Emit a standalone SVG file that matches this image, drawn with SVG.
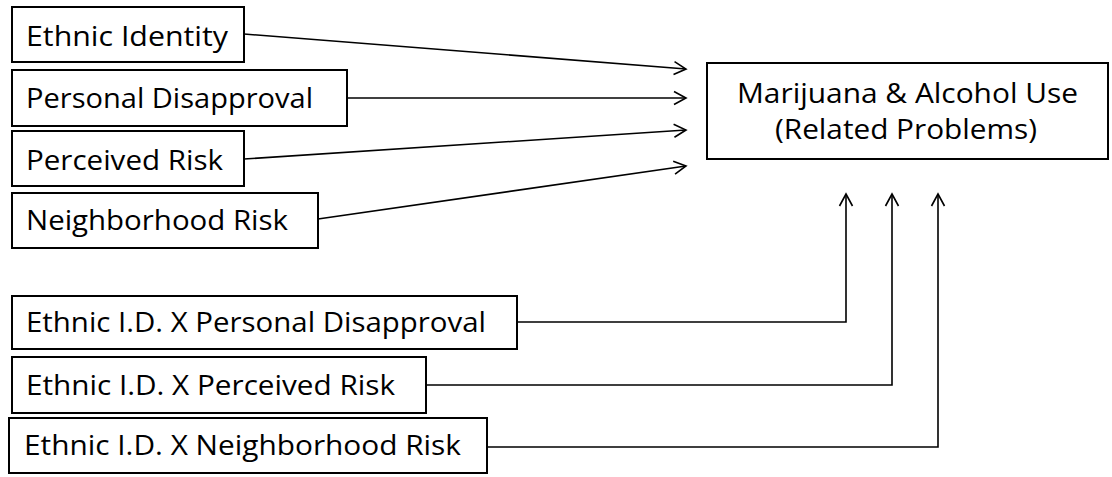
<svg xmlns="http://www.w3.org/2000/svg" width="1112" height="477" viewBox="0 0 1112 477">
<style>
.box{fill:#fff;stroke:#000;stroke-width:2}
.t{font-family:"Open Sans","Noto Sans","Liberation Sans",sans-serif;font-size:27px;fill:#000}
.c{fill:none;stroke:#000;stroke-width:1.6}
</style>
<defs>
<marker id="ah" markerUnits="userSpaceOnUse" viewBox="0 0 16 16" refX="14" refY="8" markerWidth="16" markerHeight="16" orient="auto">
<path d="M2,1.5 L14,8 L2,14.5" fill="none" stroke="#000" stroke-width="1.6"/>
</marker>
</defs>
<rect width="1112" height="477" fill="#fff"/>
<g id="connectors">
<line class="c" x1="244" y1="34" x2="686" y2="69" marker-end="url(#ah)"/>
<line class="c" x1="347" y1="98" x2="686" y2="98" marker-end="url(#ah)"/>
<line class="c" x1="244" y1="159" x2="686" y2="130" marker-end="url(#ah)"/>
<line class="c" x1="318" y1="219" x2="686" y2="166" marker-end="url(#ah)"/>
<polyline class="c" points="517,322 846,322 846,194" marker-end="url(#ah)"/>
<polyline class="c" points="426,385 892,385 892,194" marker-end="url(#ah)"/>
<polyline class="c" points="487,447 938,447 938,194" marker-end="url(#ah)"/>
</g>
<g id="ethnic-identity">
<rect class="box" x="12" y="7" width="232" height="55"/>
<text class="t" x="26" y="46" textLength="202" lengthAdjust="spacingAndGlyphs">Ethnic Identity</text>
</g>
<g id="personal-disapproval">
<rect class="box" x="12" y="70" width="335" height="56"/>
<text class="t" x="26" y="108" textLength="287" lengthAdjust="spacingAndGlyphs">Personal Disapproval</text>
</g>
<g id="perceived-risk">
<rect class="box" x="12" y="131" width="232" height="55"/>
<text class="t" x="26" y="170" textLength="197" lengthAdjust="spacingAndGlyphs">Perceived Risk</text>
</g>
<g id="neighborhood-risk">
<rect class="box" x="12" y="193" width="306" height="55"/>
<text class="t" x="26" y="230" textLength="262" lengthAdjust="spacingAndGlyphs">Neighborhood Risk</text>
</g>
<g id="outcome">
<rect class="box" x="707" y="63" width="401" height="96"/>
<text class="t" x="907.5" y="103" text-anchor="middle" textLength="341" lengthAdjust="spacingAndGlyphs">Marijuana &amp; Alcohol Use</text>
<text class="t" x="906" y="139" text-anchor="middle" textLength="262" lengthAdjust="spacingAndGlyphs">(Related Problems)</text>
</g>
<g id="eid-x-disapproval">
<rect class="box" x="12" y="296" width="505" height="53"/>
<text class="t" x="26" y="332" textLength="460" lengthAdjust="spacingAndGlyphs">Ethnic I.D. X Personal Disapproval</text>
</g>
<g id="eid-x-perceived-risk">
<rect class="box" x="12" y="357" width="414" height="56"/>
<text class="t" x="26" y="395" textLength="369" lengthAdjust="spacingAndGlyphs">Ethnic I.D. X Perceived Risk</text>
</g>
<g id="eid-x-neighborhood-risk">
<rect class="box" x="9" y="418" width="478" height="55"/>
<text class="t" x="24" y="455" textLength="437" lengthAdjust="spacingAndGlyphs">Ethnic I.D. X Neighborhood Risk</text>
</g>
</svg>
